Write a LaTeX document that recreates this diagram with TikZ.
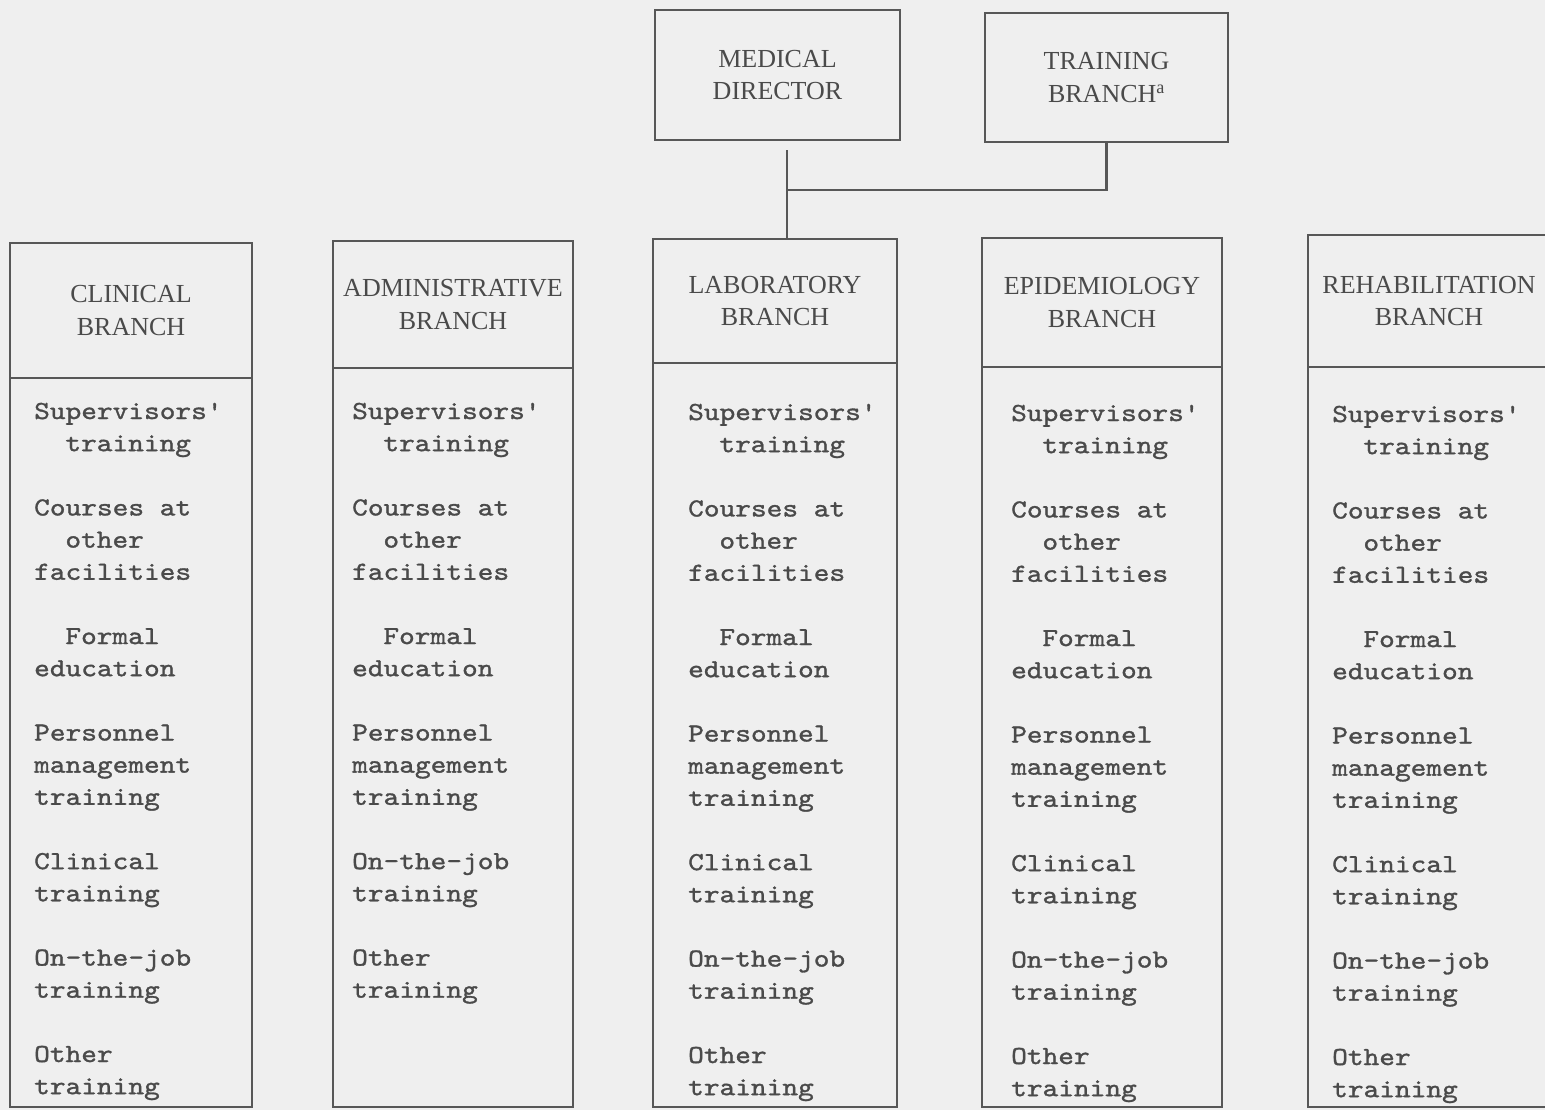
\documentclass[tikz,border=0pt]{standalone}
\usepackage{fontspec}
\newfontfamily\headfont{Liberation Serif}
\newfontfamily\typefont{lmmono10-regular.otf}[FakeStretch=1.15,FakeBold=1.2]
\definecolor{paper}{HTML}{EFEFEF}
\definecolor{rulegray}{HTML}{575757}
\definecolor{inkgray}{HTML}{4A4A4A}

% training items typed in each branch column: grid row / indent (chars) / text
\def\fulllist{0/0/Supervisors', 1/2/training, 3/0/Courses at, 4/2/other,
  5/0/facilities, 7/2/Formal, 8/0/education, 10/0/Personnel, 11/0/management,
  12/0/training, 14/0/Clinical, 15/0/training, 17/0/On-the-job, 18/0/training,
  20/0/Other, 21/0/training}
\def\adminlist{0/0/Supervisors', 1/2/training, 3/0/Courses at, 4/2/other,
  5/0/facilities, 7/2/Formal, 8/0/education, 10/0/Personnel, 11/0/management,
  12/0/training, 14/0/On-the-job, 15/0/training, 17/0/Other, 18/0/training}

\begin{document}
\begin{tikzpicture}[x=1pt,y=-1pt,
  headbox/.style={draw=rulegray, line width=2.8pt, rectangle, inner sep=0pt,
    align=center, text=inkgray,
    font=\headfont\fontsize{26}{32.5}\selectfont},
  bodybox/.style={draw=rulegray, line width=2.8pt, rectangle, inner sep=0pt},
  itemtxt/.style={anchor=base west, inner sep=0pt, text=inkgray,
    font=\typefont\fontsize{26}{32}\selectfont},
  conn/.style={draw=rulegray, line width=2.8pt}]

\useasboundingbox (0,0) rectangle (1545,1110);
\fill[paper] (0,0) rectangle (1545,1110);

% top level
\node[headbox, minimum width=245pt, minimum height=130pt] (md) at (777.5,75)
  {MEDICAL\\DIRECTOR};
\node[headbox, minimum width=243pt, minimum height=129pt] (tb) at (1106.5,77.5)
  {TRAINING\\BRANCH\textsuperscript{a}};

% branch columns: header box over a tall list box
\node[headbox, minimum width=242pt, minimum height=135pt] (clinH) at (131,310.5)
  {CLINICAL\\BRANCH};
\node[bodybox, minimum width=242pt, minimum height=729pt] (clinB) at (131,742.5) {};

\node[headbox, minimum width=240pt, minimum height=127pt] (admH) at (453,304.5)
  {ADMINISTRATIVE\\BRANCH};
\node[bodybox, minimum width=240pt, minimum height=739pt] (admB) at (453,737.5) {};

\node[headbox, minimum width=244pt, minimum height=124pt] (labH) at (775,301)
  {LABORATORY\\BRANCH};
\node[bodybox, minimum width=244pt, minimum height=744pt] (labB) at (775,735) {};

\node[headbox, minimum width=240pt, minimum height=129pt] (epiH) at (1102,302.5)
  {EPIDEMIOLOGY\\BRANCH};
\node[bodybox, minimum width=240pt, minimum height=740pt] (epiB) at (1102,737) {};

\node[headbox, minimum width=242pt, minimum height=132pt] (rehH) at (1429,301)
  {REHABILITATION\\BRANCH};
\node[bodybox, minimum width=242pt, minimum height=740pt] (rehB) at (1429,737) {};

% connectors
\coordinate (j) at (787,190);
\draw[conn, shorten <=9pt] (md.south -| j) -- (j) -- (labH.north -| j);
\draw[conn] (tb.south) |- (j);

% list entries
\foreach \col/\L/\B in {clin/34/419, lab/688/420, epi/1011/421, reh/1332/422}{
  \foreach \k/\d/\wtxt [count=\n] in \fulllist {
    \node[itemtxt] (\col-\n) at ({\L+\d*15.6},{\B+\k*32.15}) {\wtxt};
  }
}
\foreach \k/\d/\wtxt [count=\n] in \adminlist {
  \node[itemtxt] (adm-\n) at ({352+\d*15.6},{419+\k*32.15}) {\wtxt};
}
\end{tikzpicture}
\end{document}
